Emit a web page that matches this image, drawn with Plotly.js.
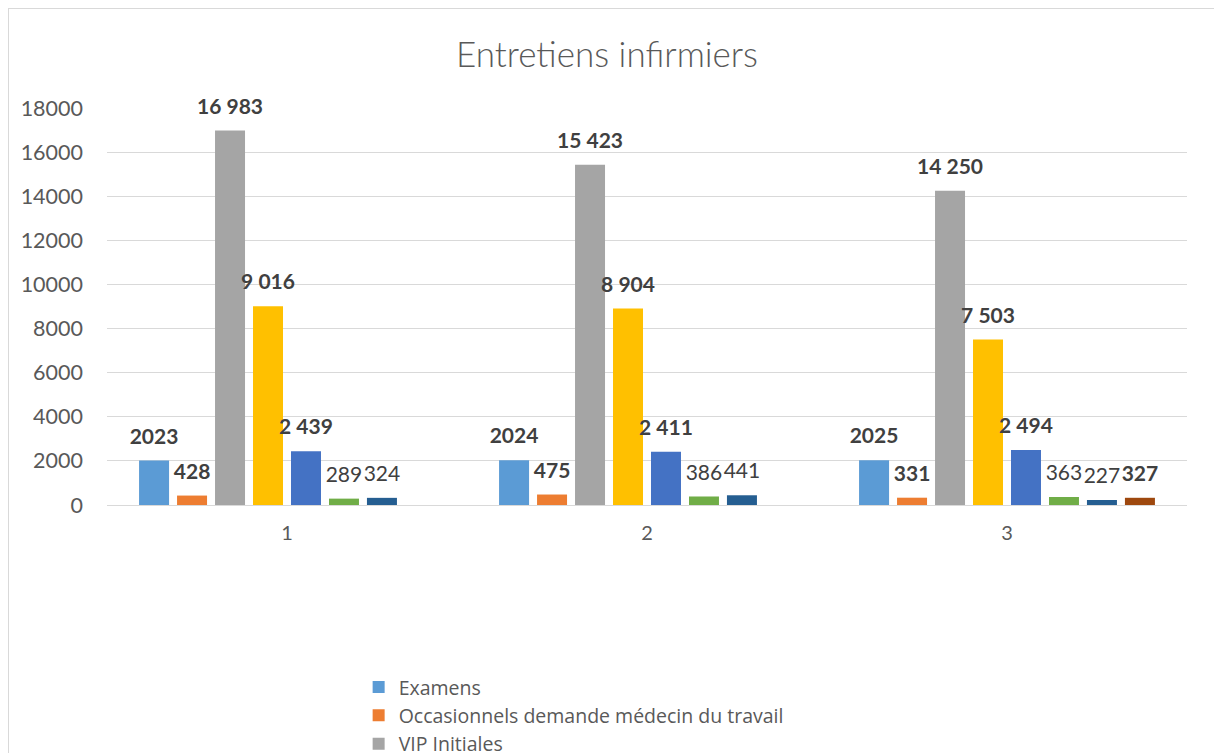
<!DOCTYPE html>
<html>
<head>
<meta charset="utf-8">
<script src="https://cdn.plot.ly/plotly-3.0.1.min.js"></script>
<style>
  html, body { margin: 0; padding: 0; background: #ffffff; overflow: hidden; }
  #frame { position: absolute; left: 8px; top: 8px; width: 1400px; height: 1000px; border: 1px solid #d9d9d9; box-sizing: border-box; }
  #chart { position: absolute; left: 0; top: 0; width: 1214px; height: 753px; }
</style>
</head>
<body>
<div id="frame"></div>
<div id="chart"></div>
<script>
const categories = ['1', '2', '3'];
const seriesNames = ['Examens', 'Occasionnels demande médecin du travail', 'VIP Initiales',
  'Série 4', 'Série 5', 'Série 6', 'Série 7', 'Série 8'];
const examens = [2023, 2024, 2025];
const occasionnels = [428, 475, 331];
const vipInitiales = [16983, 15423, 14250];
const serie4 = [9016, 8904, 7503];
const serie5 = [2439, 2411, 2494];
const serie6 = [289, 386, 363];
const serie7 = [324, 441, 227];
const serie8 = [null, null, 327];
const yTicks = [0, 2000, 4000, 6000, 8000, 10000, 12000, 14000, 16000, 18000];

const seriesValues = [examens, occasionnels, vipInitiales, serie4, serie5, serie6, serie7, serie8];
const colors = ['#5B9BD5', '#ED7D31', '#A5A5A5', '#FFC000', '#4472C4', '#70AD47', '#255E91', '#9E480E'];
const boldLabel = [true, true, true, true, true, false, false, true];
const labelFormat = ['d', ',d', ',d', ',d', ',d', ',d', ',d', ',d'];
const shownInLegend = [true, true, true, false, false, false, false, false];

const FONT = 'Lato, "Open Sans", sans-serif';
const traces = [];
seriesValues.forEach((vals, i) => {
  traces.push({
    type: 'bar', name: seriesNames[i], x: categories, y: vals,
    marker: { color: colors[i] }, offsetgroup: 'g' + i,
    showlegend: shownInLegend[i], hoverinfo: 'skip'
  });
});
seriesValues.forEach((vals, i) => {
  const fmt = '%{y:' + labelFormat[i] + '}';
  traces.push({
    type: 'scatter', mode: 'markers+text', x: categories, y: vals,
    offsetgroup: 'g' + i, showlegend: false, hoverinfo: 'skip', cliponaxis: false,
    marker: { size: 17, opacity: 0, color: colors[i] },
    texttemplate: boldLabel[i] ? '<b>' + fmt + '</b>' : fmt,
    textposition: 'top center',
    textfont: { family: FONT, size: 21, color: '#404040' }
  });
});

const layout = {
  width: 1214, height: 753,
  paper_bgcolor: 'rgba(0,0,0,0)', plot_bgcolor: 'rgba(0,0,0,0)',
  margin: { l: 107, r: 27, t: 108, b: 248, autoexpand: false },
  separators: ', ',
  barmode: 'group', bargap: 0.156, bargroupgap: 0.21,
  scattermode: 'group', scattergap: 0.156,
  title: { text: 'Entretiens infirmiers', x: 0.5, xanchor: 'center', y: 0.927, yanchor: 'middle',
    font: { family: FONT, size: 35, color: '#595959', weight: 300 } },
  xaxis: { type: 'category', showgrid: false, zeroline: false, showline: false, ticks: '',
    ticklabelstandoff: 14, tickfont: { family: FONT, size: 20, color: '#595959' } },
  yaxis: { range: [0, 18000], tickvals: yTicks, tickformat: 'd', showgrid: true, gridcolor: '#D9D9D9',
    gridwidth: 1, zeroline: true, zerolinecolor: '#D9D9D9', zerolinewidth: 1, showline: false, ticks: '',
    ticklabelstandoff: 23, tickfont: { family: FONT, size: 21.5, color: '#595959' } },
  showlegend: true,
  legend: { orientation: 'v', x: 0.233, xanchor: 'left', y: -0.41, yanchor: 'top',
    font: { family: '"Open Sans", Lato, sans-serif', size: 19.5, color: '#595959' },
    bgcolor: 'rgba(0,0,0,0)', tracegroupgap: 0 },
  hovermode: false
};

Plotly.newPlot('chart', traces, layout, { displayModeBar: false, staticPlot: true });
</script>
</body>
</html>
